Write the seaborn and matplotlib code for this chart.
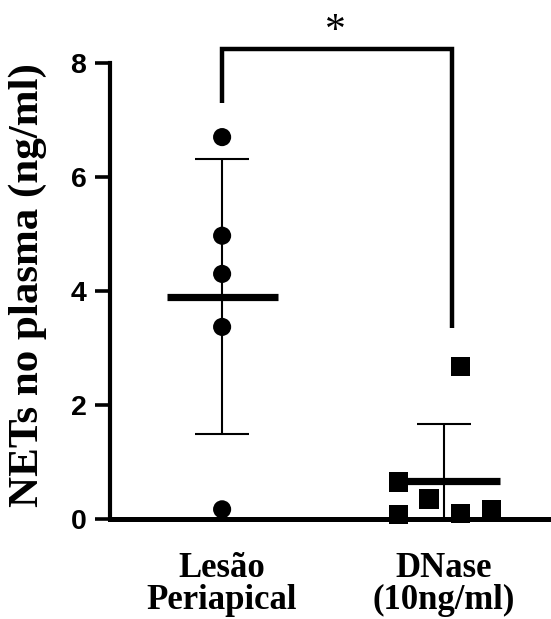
import numpy as np
import pandas as pd
import matplotlib
matplotlib.use("Agg")
import matplotlib.pyplot as plt
import seaborn as sns

# ---- data ----
groups = ["Lesão\nPeriapical", "DNase\n(10ng/ml)"]
lesao_values = [6.70, 4.97, 4.30, 3.37, 0.17]
dnase_values = [2.67, 0.65, 0.08, 0.35, 0.10, 0.16]
y_ticks = [0, 2, 4, 6, 8]
y_label = "NETs no plasma (ng/ml)"
significance = "*"

# layout-only horizontal offsets of the points inside each column
lesao_offsets = [0.0, 0.0, 0.0, 0.0, 0.0]
dnase_offsets = [0.072, -0.207, -0.207, -0.068, 0.072, 0.212]

sns.set_theme(style="ticks")
plt.rcParams["font.family"] = ["Liberation Serif", "DejaVu Serif"]
plt.rcParams.update({
    "axes.edgecolor": "black", "text.color": "black",
    "xtick.color": "black", "ytick.color": "black",
    "axes.labelcolor": "black",
})

df = pd.DataFrame({
    "group": [groups[0]] * len(lesao_values) + [groups[1]] * len(dnase_values),
    "value": lesao_values + dnase_values,
    "offset": lesao_offsets + dnase_offsets,
})
df["gidx"] = df["group"].map({g: i for i, g in enumerate(groups)})
df["x"] = df["gidx"] + df["offset"]

fig = plt.figure(figsize=(5.51, 6.19), dpi=100)
ax = fig.add_axes([110 / 551, 1 - 519 / 619, 440 / 551, 456 / 619])

sns.scatterplot(data=df, x="x", y="value", hue="group", style="group",
                markers={groups[0]: "o", groups[1]: "s"},
                palette={groups[0]: "black", groups[1]: "black"},
                size="group", sizes={groups[0]: 170, groups[1]: 190},
                linewidth=0, legend=False, ax=ax, zorder=3, clip_on=False)

# mean and SD
for i, g in enumerate(groups):
    vals = df.loc[df["group"] == g, "value"].to_numpy()
    m = vals.mean()
    sd = vals.std(ddof=1)
    ax.hlines(m, i - 0.25, i + 0.25, color="black", lw=5.2, zorder=4)
    ax.vlines(i, max(m - sd, 0), m + sd, color="black", lw=1.5, zorder=2)
    ax.hlines(m + sd, i - 0.12, i + 0.12, color="black", lw=1.5, zorder=2)
    if m - sd > 0:
        ax.hlines(m - sd, i - 0.12, i + 0.12, color="black", lw=1.5, zorder=2)

# significance bracket
top = 8.25
left_bottom = max(lesao_values) + 0.6
right_bottom = max(dnase_values) + 0.68
ax.plot([0, 0, 1.035, 1.035], [left_bottom, top, top, right_bottom],
        color="black", lw=3.2, clip_on=False, solid_joinstyle="miter",
        solid_capstyle="butt")
ax.text(0.51, 8.37, significance, ha="center", va="baseline",
        fontsize=30, fontfamily="Liberation Serif")

ax.set_xlim(-0.505, 1.477)
ax.set_ylim(0, 8)
ax.set_yticks(y_ticks)
ax.set_yticklabels([str(t) for t in y_ticks], fontfamily="Liberation Sans",
                   fontweight="bold", fontsize=20.5)
ax.set_xticks(range(len(groups)))
ax.set_xticklabels(groups, fontfamily="Liberation Serif", fontweight="bold",
                   fontsize=25, linespacing=0.95)
ax.tick_params(axis="x", length=0, pad=24)
ax.tick_params(axis="y", length=11, width=2.6, pad=6)
ax.set_xlabel("")
ax.set_ylabel(y_label, fontfamily="Liberation Serif", fontweight="bold",
              fontsize=31)
ax.yaxis.set_label_coords(-0.143, 0.513)

sns.despine(ax=ax)
ax.spines["left"].set_linewidth(3.0)
ax.spines["bottom"].set_linewidth(3.6)
ax.spines["bottom"].set_bounds(-0.505, 1.477)

fig.savefig("out.png", dpi=100)
